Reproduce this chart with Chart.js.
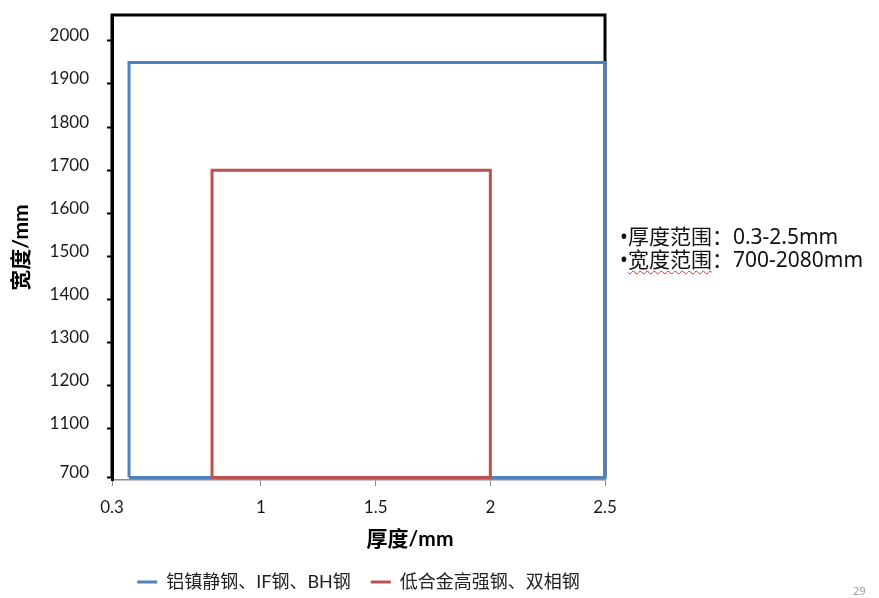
<!DOCTYPE html>
<html><head><meta charset="utf-8">
<script src="https://cdn.jsdelivr.net/npm/chart.js@4.4.1/dist/chart.umd.min.js"></script>
<style>
html,body{margin:0;padding:0;background:#fff;overflow:hidden;}
#wrap{position:relative;width:879px;height:601px;}
#c{position:absolute;left:0;top:0;}
#note{position:absolute;left:620px;top:225px;font:21px/23px "Noto Sans","Noto Sans CJK SC",sans-serif;color:#111;white-space:nowrap;}
.wavy{text-decoration:underline wavy #e03030;text-decoration-thickness:1px;text-underline-offset:3px;}
#xtitle{position:absolute;left:410px;top:538px;transform:translate(-50%,-50%);font:bold 21px/24px Lato,"Noto Sans CJK SC",sans-serif;color:#000;white-space:nowrap;}
#page{position:absolute;left:853px;top:583px;font:11px "Noto Sans",sans-serif;color:#9a9a9a;}
</style></head><body>
<div id="wrap"><canvas id="c"></canvas>
<div id="xtitle">厚度/mm</div>
<div id="note">•厚度范围：0.3-2.5mm<br>•<span class="wavy">宽度范围</span>：700-2080mm</div>
<div id="page">29</div></div>
<script>
// ---- data ----
const seriesNames = ['铝镇静钢、IF钢、BH钢', '低合金高强钢、双相钢'];
const blueThickness = [0.38, 0.38, 2.5, 2.5, 0.38];
const blueWidth     = [700, 1950, 1950, 700, 700];
const redThickness  = [0.77, 0.77, 2.0, 2.0, 0.77];
const redWidth      = [700, 1700, 1700, 700, 700];
const frameThickness = [0.3, 0.3, 2.5, 2.5];
const frameWidth     = [700, 2060, 2060, 700];
const xTicks = [0.3, 1, 1.5, 2, 2.5];
const yTicks = [700, 1100, 1200, 1300, 1400, 1500, 1600, 1700, 1800, 1900, 2000];

const FONT = 'Lato, "Noto Sans CJK SC", sans-serif';
const pts = (xs, ys) => xs.map((x, i) => ({x, y: ys[i]}));

// linear scale with a compressed segment below breakValue (axis break)
class BrokenLinearScale extends Chart.LinearScale {
  static id = 'brokenLinear';
  _t(v) {
    const b = this.options.breakValue, r = this.options.breakRatio;
    return v >= b ? v : b - (b - v) * r;
  }
  getPixelForValue(value) {
    if (value === null || value === undefined || isNaN(value)) return NaN;
    const t0 = this._t(this.min), t1 = this._t(this.max);
    return this.getPixelForDecimal((this._t(value) - t0) / (t1 - t0));
  }
  getValueForPixel(pixel) {
    const t0 = this._t(this.min), t1 = this._t(this.max);
    const tv = t0 + this.getDecimalForPixel(pixel) * (t1 - t0);
    const b = this.options.breakValue, r = this.options.breakRatio;
    return tv >= b ? tv : b - (b - tv) / r;
  }
}
Chart.register(BrokenLinearScale);

const lineDs = (label, xs, ys, color) => ({
  label, data: pts(xs, ys), borderColor: color, backgroundColor: color,
  borderWidth: 3, pointRadius: 0, showLine: true, fill: false, tension: 0,
  borderJoinStyle: 'miter', clip: false
});

new Chart(document.getElementById('c'), {
  type: 'scatter',
  data: {
    datasets: [
      lineDs(seriesNames[1], redThickness, redWidth, '#C0504D'),
      lineDs(seriesNames[0], blueThickness, blueWidth, '#4F81BD'),
      lineDs('frame', frameThickness, frameWidth, '#000000')
    ]
  },
  options: {
    responsive: true, maintainAspectRatio: false, animation: false, events: [],
    layout: { padding: { top: 15, right: 274, left: 0, bottom: 0 } },
    plugins: {
      tooltip: { enabled: false },
      legend: {
        position: 'bottom', fullSize: false, align: 'center',
        labels: {
          usePointStyle: true, pointStyle: 'line', pointStyleWidth: 20,
          padding: 20, color: '#222', font: { size: 18, family: FONT },
          filter: (item) => item.datasetIndex !== 2,
          sort: (a, b) => b.datasetIndex - a.datasetIndex
        }
      }
    },
    scales: {
      x: {
        type: 'brokenLinear', breakValue: 1, breakRatio: 0.928, min: 0.3, max: 2.5,
        afterBuildTicks: s => { s.ticks = xTicks.map(v => ({ value: v })); },
        afterFit: s => { s.height = 73; },
        ticks: { autoSkip: false, maxRotation: 0, padding: 11, color: '#1a1a1a',
                 font: { size: 17, family: FONT }, callback: v => String(v) },
        grid: { display: true, drawOnChartArea: false, tickLength: 6, tickColor: '#8c8c8c', lineWidth: 1 },
        border: { display: true, color: '#8c8c8c', width: 1.5 },
        title: { display: false }
      },
      y: {
        type: 'brokenLinear', breakValue: 1100, breakRatio: 0.283, min: 680, max: 2060,
        afterBuildTicks: s => { s.ticks = yTicks.map(v => ({ value: v })); },
        afterFit: s => { s.width = 112; s.paddingTop = 0; s.paddingBottom = 0; },
        ticks: { autoSkip: false, padding: 18, labelOffset: -5, color: '#1a1a1a',
                 font: { size: 17, family: FONT }, callback: v => String(v) },
        grid: { display: true, drawOnChartArea: false, tickLength: 5, tickWidth: 2, tickColor: '#000' },
        border: { display: true, color: '#000', width: 3 },
        title: { display: true, text: '宽度/mm', color: '#000',
                 font: { size: 21, weight: 'bold', family: FONT }, padding: { top: 9, bottom: 0 } }
      }
    }
  }
});
</script>
</body></html>
